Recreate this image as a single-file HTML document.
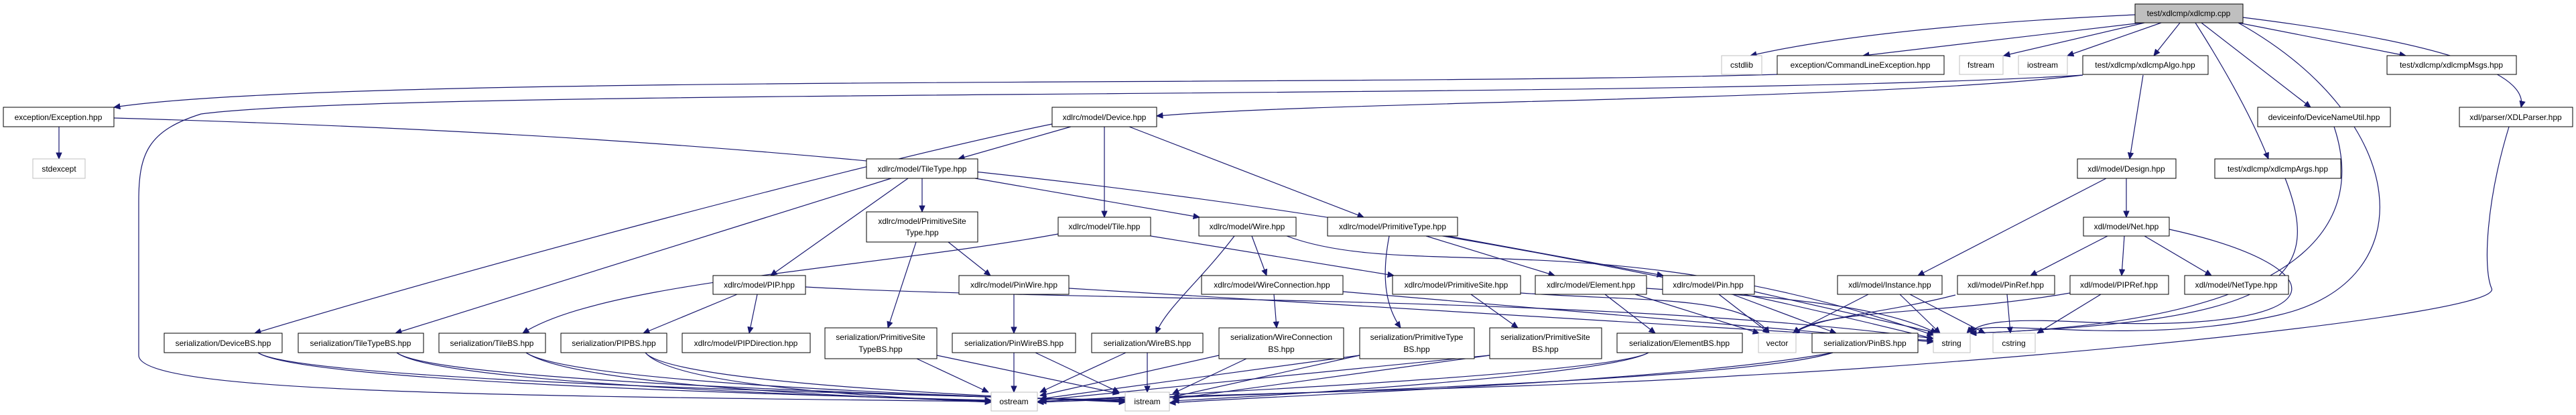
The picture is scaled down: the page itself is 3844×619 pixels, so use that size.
<!DOCTYPE html>
<html><head><meta charset="utf-8"><style>
html,body{margin:0;padding:0;background:#fff;width:3844px;height:619px;overflow:hidden}
svg{display:block}
text{font-family:"Liberation Sans",Arial,sans-serif;font-size:12px;fill:#000}
.n{fill:#fff;stroke:#000;stroke-width:1}
.g{fill:#fff;stroke:#bfbfbf;stroke-width:1}
.e path{fill:none;stroke:#191970;stroke-width:1.2;marker-end:url(#a)}
</style></head><body>
<svg width="3844" height="619" viewBox="0 0 3844 619" xmlns="http://www.w3.org/2000/svg">
<defs><marker id="a" viewBox="0 0 10 10" refX="10" refY="5" markerWidth="10" markerHeight="9" markerUnits="userSpaceOnUse" orient="auto"><path d="M0,0.5L10,5L0,9.5z" fill="#191970" stroke="#191970"/></marker></defs>
<g class="e">
<path d="M3186,22 Q2800,40 2612,83"/>
<path d="M3196,34 L2780,83"/>
<path d="M3200,34 L2990,83"/>
<path d="M3225,34 L3085,83"/>
<path d="M3253,34 L3214,83"/>
<path d="M3276,34 Q3350,150 3385,237"/>
<path d="M3285,34 L3448,160"/>
<path d="M3340,34 L3590,83"/>
<path d="M3347,26 Q3780,80 3762,160"/>
<path d="M3340,34 C3600,180 3620,420 3400,470 S2960,470 2935,497"/>
<path d="M2652,111 C2000,130 500,110 170,160"/>
<path d="M3108,112 C2800,150 2000,150 1726,173"/>
<path d="M3108,112 C2500,150 600,130 300,170 C220,195 207,230 207,300 L207,530 C207,585 700,590 1479,599"/>
<path d="M3198,112 L3178,237"/>
<path d="M88,189 L88,237"/>
<path d="M170,176 C1000,200 1900,260 2885,505"/>
<path d="M1598,189 L1430,237"/>
<path d="M1648,189 L1648,324"/>
<path d="M1685,189 L2035,324"/>
<path d="M1570,185 C1300,240 700,400 380,497"/>
<path d="M1376,266 L1376,316"/>
<path d="M1455,266 L1790,324"/>
<path d="M1355,266 L1150,411"/>
<path d="M1330,266 L590,497"/>
<path d="M1415,361 L1478,411"/>
<path d="M1367,361 L1325,489"/>
<path d="M1579,349 C1300,400 900,420 780,497"/>
<path d="M1717,352 L2080,411"/>
<path d="M1842,352 C1790,420 1740,460 1725,497"/>
<path d="M1868,352 L1890,411"/>
<path d="M1920,352 C2100,420 2400,330 2885,500"/>
<path d="M2073,352 C2060,420 2070,460 2090,489"/>
<path d="M2128,352 L2320,411"/>
<path d="M2160,352 L2482,411"/>
<path d="M1100,439 L960,497"/>
<path d="M1130,439 L1118,497"/>
<path d="M1202,428 C1600,450 2400,440 2885,505"/>
<path d="M1513,439 L1513,497"/>
<path d="M1595,430 L2885,508"/>
<path d="M1901,439 L1905,489"/>
<path d="M2004,435 L2885,510"/>
<path d="M2195,439 L2265,489"/>
<path d="M2269,437 C2450,450 2600,440 2640,497"/>
<path d="M2395,439 L2470,497"/>
<path d="M2440,439 L2625,497"/>
<path d="M2457,430 C2600,440 2800,450 2890,497"/>
<path d="M2565,439 L2640,497"/>
<path d="M2585,439 L2740,497"/>
<path d="M2618,435 L2892,497"/>
<path d="M2788,439 L2675,497"/>
<path d="M2835,439 L2895,497"/>
<path d="M2850,439 L2962,497"/>
<path d="M2918,440 C2800,470 2720,470 2676,497"/>
<path d="M2995,439 L3000,497"/>
<path d="M3089,437 C2900,470 2720,460 2676,497"/>
<path d="M3135,439 L3040,497"/>
<path d="M3143,266 L2862,411"/>
<path d="M3173,266 L3173,324"/>
<path d="M3145,352 L3030,411"/>
<path d="M3170,352 L3166,411"/>
<path d="M3200,352 L3300,411"/>
<path d="M3237,342 C3500,400 3500,500 3100,480 C3000,475 2950,480 2940,497"/>
<path d="M3410,266 C3470,420 3400,480 2940,497"/>
<path d="M3483,189 C3520,300 3500,480 2940,497"/>
<path d="M3744,189 C3710,300 3705,400 3718,430 C3740,470 3000,540 2600,560 C2300,580 1700,590 1548,599"/>
<path d="M2735,526 C2600,570 1800,590 1548,600"/>
<path d="M2735,526 C2500,570 1900,590 1745,601"/>
<path d="M385,526 C450,570 1200,590 1479,597"/>
<path d="M385,526 C450,570 1400,590 1679,597"/>
<path d="M592,526 C650,570 1200,590 1479,598"/>
<path d="M592,526 C650,570 1400,590 1679,598"/>
<path d="M785,526 C850,570 1200,590 1479,599"/>
<path d="M785,526 C850,570 1400,590 1679,599"/>
<path d="M963,526 C1000,570 1250,590 1479,600"/>
<path d="M963,526 C1000,570 1450,590 1679,600"/>
<path d="M1368,535 L1475,585"/>
<path d="M1398,530 L1670,587"/>
<path d="M1513,526 L1513,585"/>
<path d="M1545,526 L1670,585"/>
<path d="M1680,526 L1552,585"/>
<path d="M1712,526 L1712,585"/>
<path d="M1819,530 L1552,590"/>
<path d="M1860,535 L1750,587"/>
<path d="M2029,530 L1552,595"/>
<path d="M2029,530 L1750,592"/>
<path d="M2223,530 L1552,597"/>
<path d="M2223,530 L1750,595"/>
<path d="M2460,526 C2400,560 1700,590 1552,599"/>
<path d="M2460,526 C2400,560 1900,590 1750,598"/>
</g>
<g>
<rect x="3186" y="6" width="161" height="28" fill="#bfbfbf" stroke="#000"/><text x="3266" y="24" text-anchor="middle">test/xdlcmp/xdlcmp.cpp</text>
<rect class="g" x="2569" y="83" width="60" height="28"/><text x="2599" y="101" text-anchor="middle">cstdlib</text>
<rect class="n" x="2652" y="83" width="249" height="28"/><text x="2776" y="101" text-anchor="middle">exception/CommandLineException.hpp</text>
<rect class="g" x="2924" y="83" width="65" height="28"/><text x="2956" y="101" text-anchor="middle">fstream</text>
<rect class="g" x="3012" y="83" width="73" height="28"/><text x="3048" y="101" text-anchor="middle">iostream</text>
<rect class="n" x="3108" y="83" width="187" height="28"/><text x="3201" y="101" text-anchor="middle">test/xdlcmp/xdlcmpAlgo.hpp</text>
<rect class="n" x="3562" y="83" width="193" height="28"/><text x="3658" y="101" text-anchor="middle">test/xdlcmp/xdlcmpMsgs.hpp</text>
<rect class="n" x="3369" y="160" width="198" height="29"/><text x="3468" y="179" text-anchor="middle">deviceinfo/DeviceNameUtil.hpp</text>
<rect class="n" x="3670" y="160" width="169" height="29"/><text x="3754" y="179" text-anchor="middle">xdl/parser/XDLParser.hpp</text>
<rect class="n" x="3100" y="237" width="147" height="29"/><text x="3173" y="256" text-anchor="middle">xdl/model/Design.hpp</text>
<rect class="n" x="3305" y="237" width="188" height="29"/><text x="3399" y="256" text-anchor="middle">test/xdlcmp/xdlcmpArgs.hpp</text>
<rect class="n" x="5" y="160" width="165" height="29"/><text x="87" y="179" text-anchor="middle">exception/Exception.hpp</text>
<rect class="g" x="49" y="237" width="78" height="29"/><text x="88" y="256" text-anchor="middle">stdexcept</text>
<rect class="n" x="1570" y="160" width="156" height="29"/><text x="1648" y="179" text-anchor="middle">xdlrc/model/Device.hpp</text>
<rect class="n" x="1293" y="237" width="166" height="29"/><text x="1376" y="256" text-anchor="middle">xdlrc/model/TileType.hpp</text>
<rect class="n" x="1293" y="316" width="166" height="45"/><text x="1376" y="334" text-anchor="middle">xdlrc/model/PrimitiveSite</text><text x="1376" y="351" text-anchor="middle">Type.hpp</text>
<rect class="n" x="1579" y="324" width="138" height="28"/><text x="1648" y="342" text-anchor="middle">xdlrc/model/Tile.hpp</text>
<rect class="n" x="1789" y="324" width="145" height="28"/><text x="1861" y="342" text-anchor="middle">xdlrc/model/Wire.hpp</text>
<rect class="n" x="1981" y="324" width="194" height="28"/><text x="2078" y="342" text-anchor="middle">xdlrc/model/PrimitiveType.hpp</text>
<rect class="n" x="3109" y="324" width="128" height="28"/><text x="3173" y="342" text-anchor="middle">xdl/model/Net.hpp</text>
<rect class="n" x="1064" y="411" width="138" height="28"/><text x="1133" y="429" text-anchor="middle">xdlrc/model/PIP.hpp</text>
<rect class="n" x="1431" y="411" width="164" height="28"/><text x="1513" y="429" text-anchor="middle">xdlrc/model/PinWire.hpp</text>
<rect class="n" x="1793" y="411" width="211" height="28"/><text x="1898" y="429" text-anchor="middle">xdlrc/model/WireConnection.hpp</text>
<rect class="n" x="2078" y="411" width="191" height="28"/><text x="2173" y="429" text-anchor="middle">xdlrc/model/PrimitiveSite.hpp</text>
<rect class="n" x="2291" y="411" width="166" height="28"/><text x="2374" y="429" text-anchor="middle">xdlrc/model/Element.hpp</text>
<rect class="n" x="2481" y="411" width="137" height="28"/><text x="2549" y="429" text-anchor="middle">xdlrc/model/Pin.hpp</text>
<rect class="n" x="2742" y="411" width="156" height="28"/><text x="2820" y="429" text-anchor="middle">xdl/model/Instance.hpp</text>
<rect class="n" x="2921" y="411" width="145" height="28"/><text x="2993" y="429" text-anchor="middle">xdl/model/PinRef.hpp</text>
<rect class="n" x="3089" y="411" width="147" height="28"/><text x="3162" y="429" text-anchor="middle">xdl/model/PIPRef.hpp</text>
<rect class="n" x="3260" y="411" width="155" height="28"/><text x="3337" y="429" text-anchor="middle">xdl/model/NetType.hpp</text>
<rect class="n" x="245" y="497" width="176" height="29"/><text x="333" y="516" text-anchor="middle">serialization/DeviceBS.hpp</text>
<rect class="n" x="445" y="497" width="187" height="29"/><text x="538" y="516" text-anchor="middle">serialization/TileTypeBS.hpp</text>
<rect class="n" x="655" y="497" width="159" height="29"/><text x="734" y="516" text-anchor="middle">serialization/TileBS.hpp</text>
<rect class="n" x="837" y="497" width="158" height="29"/><text x="916" y="516" text-anchor="middle">serialization/PIPBS.hpp</text>
<rect class="n" x="1018" y="497" width="191" height="29"/><text x="1113" y="516" text-anchor="middle">xdlrc/model/PIPDirection.hpp</text>
<rect class="n" x="1231" y="489" width="167" height="46"/><text x="1314" y="507" text-anchor="middle">serialization/PrimitiveSite</text><text x="1314" y="525" text-anchor="middle">TypeBS.hpp</text>
<rect class="n" x="1421" y="497" width="184" height="29"/><text x="1513" y="516" text-anchor="middle">serialization/PinWireBS.hpp</text>
<rect class="n" x="1629" y="497" width="166" height="29"/><text x="1712" y="516" text-anchor="middle">serialization/WireBS.hpp</text>
<rect class="n" x="1819" y="489" width="186" height="46"/><text x="1912" y="507" text-anchor="middle">serialization/WireConnection</text><text x="1912" y="525" text-anchor="middle">BS.hpp</text>
<rect class="n" x="2029" y="489" width="171" height="46"/><text x="2114" y="507" text-anchor="middle">serialization/PrimitiveType</text><text x="2114" y="525" text-anchor="middle">BS.hpp</text>
<rect class="n" x="2223" y="489" width="167" height="46"/><text x="2306" y="507" text-anchor="middle">serialization/PrimitiveSite</text><text x="2306" y="525" text-anchor="middle">BS.hpp</text>
<rect class="n" x="2413" y="497" width="187" height="29"/><text x="2506" y="516" text-anchor="middle">serialization/ElementBS.hpp</text>
<rect class="g" x="2624" y="497" width="56" height="29"/><text x="2652" y="516" text-anchor="middle">vector</text>
<rect class="n" x="2704" y="497" width="158" height="29"/><text x="2783" y="516" text-anchor="middle">serialization/PinBS.hpp</text>
<rect class="g" x="2885" y="497" width="55" height="29"/><text x="2912" y="516" text-anchor="middle">string</text>
<rect class="g" x="2974" y="497" width="63" height="29"/><text x="3005" y="516" text-anchor="middle">cstring</text>
<rect class="g" x="1479" y="585" width="69" height="28"/><text x="1513" y="603" text-anchor="middle">ostream</text>
<rect class="g" x="1679" y="585" width="66" height="28"/><text x="1712" y="603" text-anchor="middle">istream</text>
</g>
</svg>
</body></html>
